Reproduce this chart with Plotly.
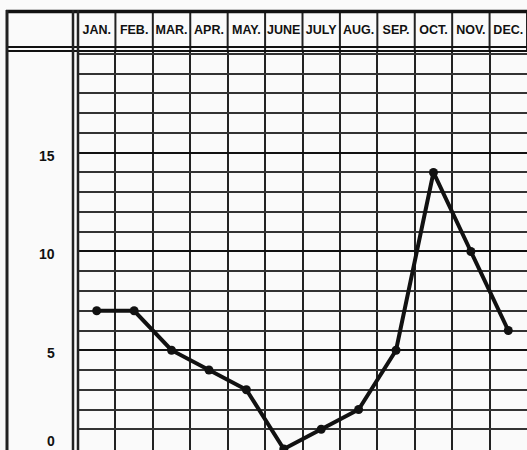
import plotly.graph_objects as go

months = ["JAN.", "FEB.", "MAR.", "APR.", "MAY.", "JUNE", "JULY", "AUG.", "SEP.", "OCT.", "NOV.", "DEC."]
values = [7, 7, 5, 4, 3, 0, 1, 2, 5, 14, 10, 6]
y_tick_vals = [0, 5, 10, 15]
y_tick_text = ["0", "5", "10", "15"]

W, H = 527, 450
L, T = 78, 51
plot_w = W - L
plot_h = H - T

def px_x(p):
    return (p - L) / plot_w

def px_y(p):
    return (H - p) / plot_h

xs = list(range(len(months)))
bounds = [i - 0.5 for i in range(len(months) + 1)]

fig = go.Figure()
fig.add_trace(go.Scatter(
    x=xs, y=values, mode="lines+markers",
    line=dict(color="#111111", width=4),
    marker=dict(color="#111111", size=9),
    cliponaxis=True, showlegend=False,
))

line_col = "#222222"
shapes = []
# vertical column lines through the header
for b in bounds:
    shapes.append(dict(type="line", xref="x", yref="paper", x0=b, x1=b,
                       y0=1, y1=px_y(11), line=dict(color=line_col, width=2)))
# header top line and header bottom double line
for py, w in ((11.5, 3.5), (47, 2), (51, 2)):
    shapes.append(dict(type="line", xref="paper", yref="paper", x0=px_x(6), x1=1.0,
                       y0=px_y(py), y1=px_y(py), line=dict(color="#111111", width=w)))
# left box and double vertical line
for pxv, w in ((7, 3), (73, 2.5), (78, 2.5)):
    shapes.append(dict(type="line", xref="paper", yref="paper", x0=px_x(pxv), x1=px_x(pxv),
                       y0=px_y(10), y1=-0.01, line=dict(color=line_col, width=w)))

annotations = []
for v, t in zip(y_tick_vals, y_tick_text):
    annotations.append(dict(xref="paper", yref="y", x=px_x(57), y=v, text=t,
                            xanchor="right", yanchor="middle", showarrow=False,
                            yshift=(8 if v == 0 else -3),
                            font=dict(family="Liberation Sans", size=14, color="#111", weight="bold")))

fig.update_layout(
    width=W, height=H,
    margin=dict(l=L, r=0, t=T, b=0),
    paper_bgcolor="#fafafa", plot_bgcolor="#fafafa",
    shapes=shapes, annotations=annotations,
    xaxis=dict(range=[-0.5, 11.5], side="top", tickvals=xs, ticktext=months,
               showgrid=False, zeroline=False, showline=False, ticks="",
               ticklabelstandoff=14,
               tickfont=dict(family="Liberation Sans", size=12.5, color="#111", weight="bold"),
               minor=dict(tickvals=bounds, showgrid=True, gridcolor=line_col, gridwidth=2, ticks="")),
    yaxis=dict(range=[-0.05, 20.15], tickvals=y_tick_vals, showticklabels=False,
               showgrid=True, gridcolor="#111111", gridwidth=2.2, zeroline=False, showline=False,
               minor=dict(dtick=1, tick0=0, showgrid=True, gridcolor="#333333", gridwidth=1.6, ticks="")),
)

fig.write_html("out.html", config={"displayModeBar": False},
               post_script="document.body.style.margin='0';document.body.style.overflow='hidden';")
